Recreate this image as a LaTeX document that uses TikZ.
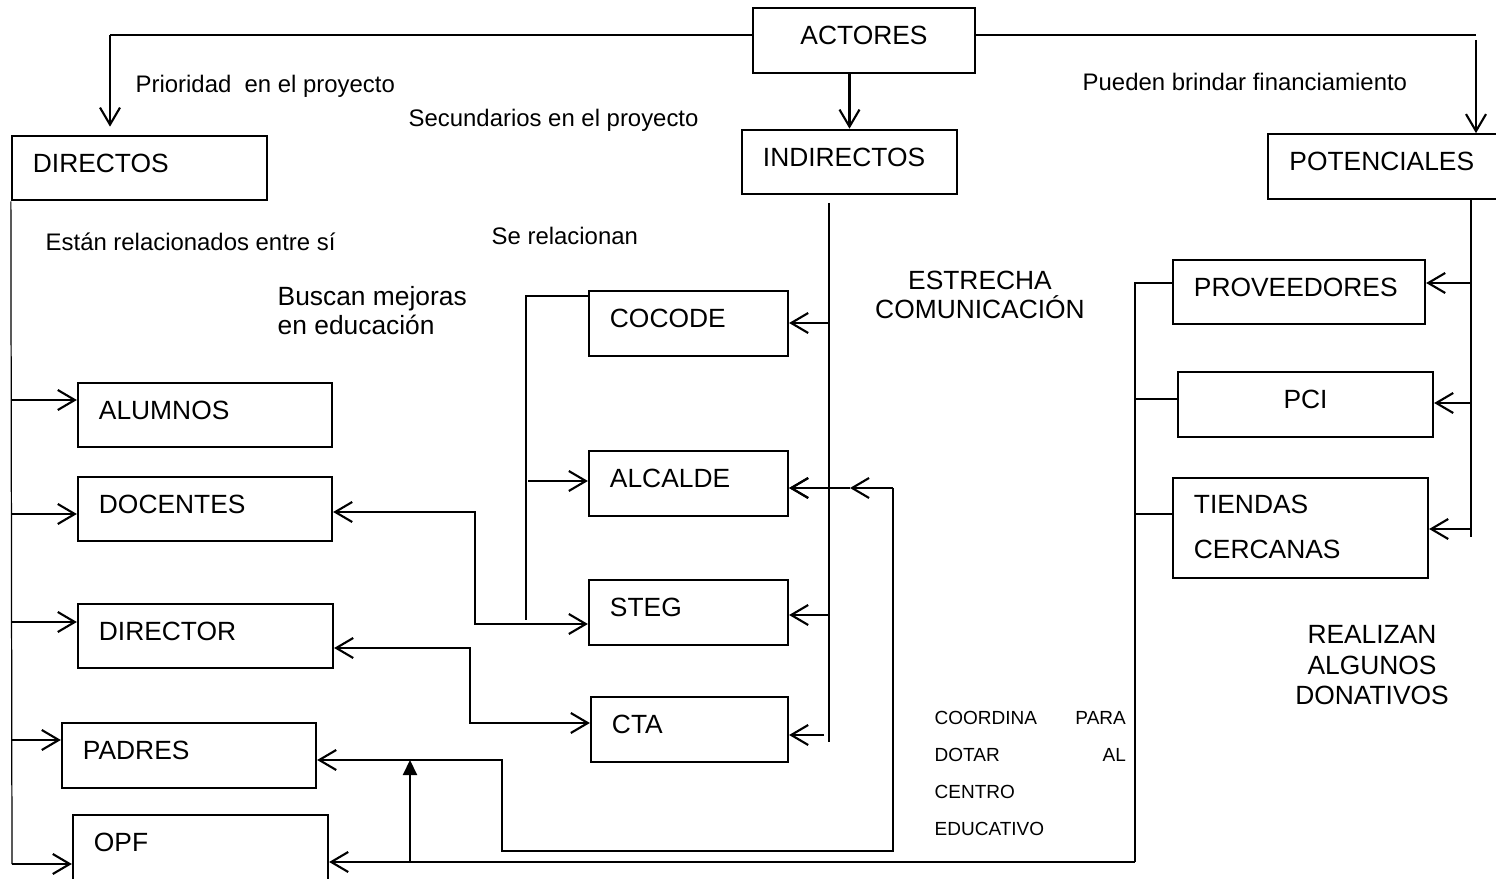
\documentclass[tikz,border=0pt]{standalone}
\usepackage{fontspec}
\setmainfont{Liberation Sans}
\usetikzlibrary{arrows.meta}

\tikzset{
  caja/.style={draw, line width=0.6pt, text width=#1, inner xsep=0.21cm, inner ysep=0pt,
    minimum height=0.645cm, text depth=0.1cm, align=left, font=\fontsize{7.5}{9}\selectfont},
  etiqueta/.style={inner sep=0pt, anchor=base west, font=\fontsize{6.8}{8}\selectfont},
  linea/.style={line width=0.35pt},
  flecha/.style={line width=0.6pt, -{Straight Barb[length=0.17cm, width=0.2cm, line width=0.6pt]}},
  flechafina/.style={line width=0.35pt, -{Straight Barb[length=0.17cm, width=0.2cm, line width=0.6pt]}},
  flechas/.style={line width=0.6pt, {Straight Barb[length=0.17cm, width=0.2cm, line width=0.6pt]}-{Straight Barb[length=0.17cm, width=0.2cm, line width=0.6pt]}},
  llena/.style={line width=0.6pt, -{Triangle[length=0.15cm, width=0.14cm]}}
}

\begin{document}
\begin{tikzpicture}[x=0.01cm, y=-0.01cm]
  \useasboundingbox (0,0) rectangle (1496,879);

  % cajas principales
  \node[caja=1.80cm, align=center] (actores) at (864,40.5) {ACTORES};
  \node[caja=2.13cm] (directos) at (139.5,168) {DIRECTOS};
  \node[caja=1.73cm] (indirectos) at (849.5,162) {INDIRECTOS};
  \node[caja=1.93cm] (potenciales) at (1386,166.5) {POTENCIALES};

  % directos
  \node[caja=2.12cm] (alumnos) at (205,415) {ALUMNOS};
  \node[caja=2.12cm] (docentes) at (205,509) {DOCENTES};
  \node[caja=2.13cm] (director) at (205.5,636) {DIRECTOR};
  \node[caja=2.12cm] (padres) at (189,755.5) {PADRES};
  \node[caja=2.13cm] (opf) at (200.5,847.5) {OPF};

  % indirectos
  \node[caja=1.57cm] (cocode) at (688.5,323.5) {COCODE};
  \node[caja=1.57cm] (alcalde) at (688.5,483.5) {ALCALDE};
  \node[caja=1.57cm] (steg) at (688.5,612.5) {STEG};
  \node[caja=1.55cm] (cta) at (689.5,729.5) {CTA};

  % potenciales
  \node[caja=2.10cm] (proveedores) at (1299,292) {PROVEEDORES};
  \node[caja=2.13cm, align=center] (pci) at (1305.5,404.5) {PCI};
  \node[caja=2.13cm, minimum height=1.0cm, text depth=0.48cm, font=\fontsize{7.5}{12.8}\selectfont] (tiendas) at (1300.5,528) {TIENDAS\\CERCANAS};

  % textos
  \node[etiqueta] (prioridad) at (135,93) {Prioridad\ \ en el proyecto};
  \node[etiqueta] (secundarios) at (408,127) {Secundarios en el proyecto};
  \node[etiqueta] (financiamiento) at (1082,91) {Pueden brindar financiamiento};
  \node[etiqueta] (relacionados) at (45,251) {Están relacionados entre sí};
  \node[etiqueta] (relacionan) at (491,245) {Se relacionan};
  \node[etiqueta, font=\fontsize{7.5}{8.3}\selectfont, align=left] (mejoras) at (277,335) {Buscan mejoras\\en educación};
  \node[etiqueta, anchor=base, font=\fontsize{7.5}{8.5}\selectfont, align=center] (estrecha) at (980,319) {ESTRECHA\\COMUNICACIÓN};
  \node[etiqueta, font=\fontsize{5.4}{10.5}\selectfont, text width=1.91cm, align=left] (coordina) at (934,725) {COORDINA\hfill PARA\\DOTAR\hfill AL\\CENTRO\\EDUCATIVO};
  \node[etiqueta, anchor=base, font=\fontsize{7.5}{8.8}\selectfont, align=center] (donativos) at (1372,705) {REALIZAN\\ALGUNOS\\DONATIVOS};

  % desde actores
  \coordinate (t1) at (110,35);
  \coordinate (t2) at (1476,35);
  \draw[linea] (actores.west |- t1) -- (t1);
  \draw[flecha, shorten >=0.08cm] (t1) -- (t1 |- directos.north);
  \draw[linea] (actores.east |- t2) -- (t2);
  \draw[flecha] ([yshift=-0.05cm]t2) -- (t2 |- potenciales.north);
  \draw[flecha] (indirectos.north |- actores.south) -- (indirectos.north);

  % linea de directos
  \coordinate (i1) at (12,400);
  \coordinate (i2) at (12,514);
  \coordinate (i3) at (12,622);
  \coordinate (i4) at (12,740);
  \coordinate (i5) at (12,864);
  \draw[linea] (directos.south west) -- (i5);
  \foreach \c/\n in {i1/alumnos, i2/docentes, i3/director, i4/padres, i5/opf}
    \draw[flecha] (\c) -- (\c -| \n.west);

  % linea de indirectos
  \coordinate (m0) at (829,203);
  \coordinate (m1) at (829,323);
  \coordinate (m2) at (829,488);
  \coordinate (m3) at (829,615);
  \coordinate (m4) at (824,735);
  \coordinate (mfin) at (829,742);
  \draw[linea] (m0) -- (mfin);
  \foreach \c/\n in {m1/cocode, m2/alcalde, m3/steg, m4/cta}
    \draw[flecha] (\c) -- (\c -| \n.east);

  % se relacionan
  \coordinate (r0) at (526,296);
  \coordinate (r1) at (526,620);
  \coordinate (r2) at (528,481);
  \draw[linea] (r0 -| cocode.west) -- (r0) -- (r1);
  \draw[flecha] (r2) -- (r2 -| alcalde.west);

  \coordinate (d1) at (475,512);
  \coordinate (d2) at (475,624);
  \draw[flechas] (d1 -| docentes.east) -- (d1) -- (d2) -- (d2 -| steg.west);
  \coordinate (e1) at (470,648);
  \coordinate (e2) at (470,723);
  \draw[flechas] (e1 -| director.east) -- (e1) -- (e2) -- (e2 -| cta.west);

  % alcalde con padres
  \coordinate (b1) at (893,488);
  \coordinate (b2) at (850,488);
  \coordinate (b3) at (893,851);
  \coordinate (b4) at (502,851);
  \coordinate (b5) at (502,760);
  \draw[flecha] (b1) -- (b2);
  \draw[flecha] (b2) -- (b2 -| alcalde.east);
  \draw[flechafina] (b1) -- (b3) -- (b4) -- (b5) -- (b5 -| padres.east);

  % potenciales con opf
  \coordinate (p0) at (1135,283);
  \coordinate (p1) at (1135,399);
  \coordinate (p2) at (1135,514);
  \coordinate (p3) at (1135,862);
  \draw[linea] (p0 -| proveedores.west) -- (p0) -- (p3);
  \draw[linea] (p1) -- (p1 -| pci.west);
  \draw[linea] (p2) -- (p2 -| tiendas.west);
  \draw[flechafina] (p3) -- (p3 -| opf.east);
  \coordinate (f1) at (410,862);
  \draw[llena] (f1) -- (f1 |- b5);

  % linea de potenciales
  \coordinate (q1) at (1471,283);
  \coordinate (q2) at (1471,403);
  \coordinate (q3) at (1471,529);
  \coordinate (qfin) at (1471,537);
  \draw[linea] (q1 |- potenciales.south) -- (qfin);
  \foreach \c/\n in {q1/proveedores, q2/pci, q3/tiendas}
    \draw[flecha] (\c) -- (\c -| \n.east);
\end{tikzpicture}
\end{document}
